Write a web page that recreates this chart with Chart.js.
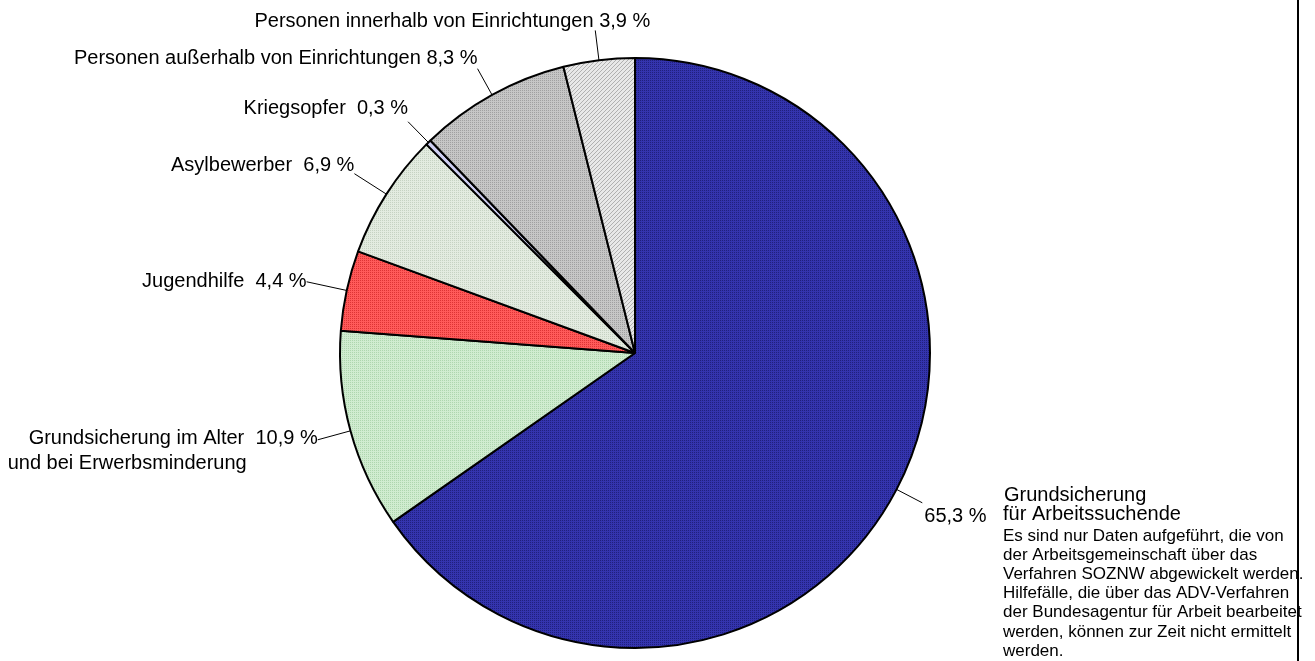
<!DOCTYPE html>
<html>
<head>
<meta charset="utf-8">
<script src="https://cdn.jsdelivr.net/npm/chart.js@4.4.1/dist/chart.umd.min.js"></script>
<style>
  body { margin: 0; background: #fff; }
  #wrap { position: relative; width: 1315px; height: 661px; }
</style>
</head>
<body>
<div id="wrap">
  <canvas id="pie-chart" width="1315" height="661"></canvas>
</div>
<script>
// slices in drawing order, clockwise from 12 o'clock
const categories = [
  "Grundsicherung für Arbeitssuchende",
  "Grundsicherung im Alter und bei Erwerbsminderung",
  "Jugendhilfe",
  "Asylbewerber",
  "Kriegsopfer",
  "Personen außerhalb von Einrichtungen",
  "Personen innerhalb von Einrichtungen"
];
const shares = [65.3, 10.9, 4.4, 6.9, 0.3, 8.3, 3.9];

// label text per slice (lines), the percent gets appended to the first line
const labelNames = [
  [""],
  ["Grundsicherung im Alter  ", "und bei Erwerbsminderung"],
  ["Jugendhilfe  "],
  ["Asylbewerber  "],
  ["Kriegsopfer  "],
  ["Personen außerhalb von Einrichtungen "],
  ["Personen innerhalb von Einrichtungen "]
];

const noteTitle = ["Grundsicherung", "für Arbeitssuchende"];
const noteLines = [
  "Es sind nur Daten aufgeführt, die von",
  "der Arbeitsgemeinschaft über das",
  "Verfahren SOZNW abgewickelt werden.",
  "Hilfefälle, die über das ADV-Verfahren",
  "der Bundesagentur für Arbeit bearbeitet",
  "werden, können zur Zeit nicht ermittelt",
  "werden."
];

const FONT = '"Liberation Sans", Arial, sans-serif';

// small dither patterns like the office chart fills
function makePattern(a, b, kind) {
  const c = document.createElement("canvas");
  c.width = 4; c.height = 4;
  const g = c.getContext("2d");
  g.fillStyle = a;
  g.fillRect(0, 0, 4, 4);
  g.fillStyle = b;
  if (kind === "diag") {
    for (let i = 0; i < 4; i++) g.fillRect(i, 3 - i, 1, 1);
  } else {
    g.fillRect(0, 0, 1, 1); g.fillRect(2, 2, 1, 1);
    g.fillRect(2, 0, 1, 1); g.fillRect(0, 2, 1, 1);
  }
  return g.createPattern(c, "repeat");
}

const ctx = document.getElementById("pie-chart").getContext("2d");

const fills = [
  makePattern("#3434ae", "#20207e"),
  makePattern("#d0ecd0", "#aed6ae"),
  makePattern("#ff5a5a", "#dd3434"),
  makePattern("#e3ebe0", "#c6d2c2"),
  "#cfcff2",
  makePattern("#c6c6c6", "#a0a0a0"),
  makePattern("#e8e8e8", "#b0b0b0", "diag")
];

// leader length beyond the rim and text offset from the leader end
const labelLayout = [
  { len: 29, dx: 2, dy: 14, align: "left" },
  { len: 34, dx: 0, dy: -1, align: "right", lineDx: [0, -71], lineH: 25 },
  { len: 41, dx: 0, dy: 0, align: "right" },
  { len: 38, dx: 0, dy: -8, align: "right" },
  { len: 29, dx: 0, dy: -13, align: "right" },
  { len: 30, dx: 0, dy: -10, align: "right" },
  { len: 30, dx: 55, dy: -9, align: "right" }
];

function pct(v) {
  return v.toFixed(1).replace(".", ",") + " %";
}

const labelPlugin = {
  id: "sliceLabels",
  afterDatasetsDraw(chart) {
    const c = chart.ctx;
    const arcs = chart.getDatasetMeta(0).data;
    c.save();
    arcs.forEach((arc, i) => {
      const p = arc.getProps(["x", "y", "startAngle", "endAngle", "outerRadius"], true);
      const mid = (p.startAngle + p.endAngle) / 2;
      const lay = labelLayout[i];
      const x0 = p.x + Math.cos(mid) * p.outerRadius;
      const y0 = p.y + Math.sin(mid) * p.outerRadius;
      const x1 = p.x + Math.cos(mid) * (p.outerRadius + lay.len);
      const y1 = p.y + Math.sin(mid) * (p.outerRadius + lay.len);
      c.strokeStyle = "#000";
      c.lineWidth = 1;
      c.beginPath();
      c.moveTo(x0, y0);
      c.lineTo(x1, y1);
      c.stroke();

      c.fillStyle = "#000";
      c.font = "20px " + FONT;
      c.textAlign = lay.align;
      c.textBaseline = "middle";
      const lines = labelNames[i].slice();
      lines[0] = lines[0] + pct(shares[i]);
      lines.forEach((t, k) => {
        const ldx = lay.lineDx ? lay.lineDx[k] : 0;
        c.fillText(t, x1 + lay.dx + ldx, y1 + lay.dy + k * (lay.lineH || 0));
      });
    });

    // note next to the big slice
    c.textAlign = "left";
    c.textBaseline = "middle";
    c.font = "20px " + FONT;
    c.fillText(noteTitle[0], 1004, 495);
    c.fillText(noteTitle[1], 1003, 514);
    c.font = "17px " + FONT;
    noteLines.forEach((t, k) => c.fillText(t, 1003, 536 + k * 19.2));

    // frame line on the right
    c.strokeStyle = "#000";
    c.lineWidth = 2;
    c.beginPath();
    c.moveTo(1298, 0);
    c.lineTo(1298, 661);
    c.stroke();
    c.restore();
  }
};

new Chart(ctx, {
  type: "pie",
  data: {
    labels: categories,
    datasets: [{
      data: shares,
      backgroundColor: fills,
      borderColor: "#000",
      borderWidth: 2,
      hoverOffset: 0
    }]
  },
  options: {
    responsive: false,
    animation: false,
    layout: { padding: { left: 339, right: 384, top: 56, bottom: 11 } },
    plugins: {
      legend: { display: false },
      tooltip: { enabled: false }
    }
  },
  plugins: [labelPlugin]
});
</script>
</body>
</html>
